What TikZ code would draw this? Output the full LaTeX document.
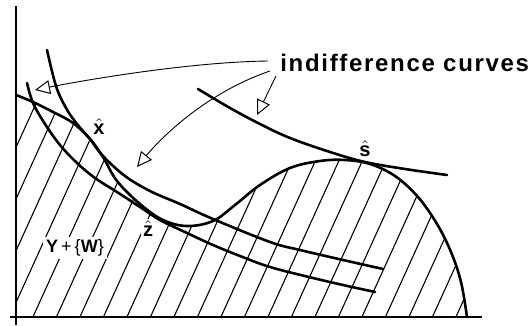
\documentclass[tikz,border=0pt]{standalone}
\usepackage{fontspec}
\setmainfont{Liberation Sans}
\newfontfamily\spaced[LetterSpace=7]{Liberation Sans}
\usetikzlibrary{arrows.meta}
\begin{document}
\begin{tikzpicture}[x=0.5pt,y=-0.5pt,
  curve/.style={line width=1.3pt, line cap=round, line join=round},
  axisline/.style={line width=1pt},
  hatch/.style={line width=0.55pt},
  pointer/.style={line width=0.45pt, -{Triangle[open,length=7.5pt,width=7pt,line width=0.5pt]}},
  lab/.style={font=\fontsize{10}{12}\selectfont\bfseries, inner sep=1pt},
]
\useasboundingbox (0,0) rectangle (531,326);

% hatching of the set Y + {W}
\begin{scope}
\clip (16,317) -- plot[smooth, tension=0.6] coordinates {(16,95) (33,102) (55,113) (73,123) (90,139) (103,157) (117,181) (140,204) (163,220) (187,226) (213,221) (235,205) (260,185) (290,168) (320,161) (345,160) (370,164) (395,176) (418,197) (437,224) (451,252) (461,282) (467,317)} -- cycle;
\foreach \k in {-7,...,20} {
  \draw[hatch] ({3.5+23.5*\k},330) -- ++(160,-352);
}
\end{scope}

% boundary of the production set
\draw[curve] plot[smooth, tension=0.6] coordinates {(16,95) (33,102) (55,113) (73,123) (90,139) (103,157) (117,181) (140,204) (163,220) (187,226) (213,221) (235,205) (260,185) (290,168) (320,161) (345,160) (370,164) (395,176) (418,197) (437,224) (451,252) (461,282) (467,317)};

% indifference curve through x-hat
\draw[curve] plot[smooth, tension=0.6] coordinates {(47,50) (56,86) (66,108) (77,124) (90,139) (103,156) (125,176) (150,191) (180,204) (213,219) (270,242) (300,250) (343,260) (383,269)};

% indifference curve through z-hat
\draw[curve] plot[smooth, tension=0.6] coordinates {(27,83) (33,103) (45,124) (60,145) (77,163) (95,178) (117,192) (140,207) (160,220) (187,233) (213,245) (240,256) (270,267) (313,278) (343,285) (375,292)};

% indifference curve through s-hat
\draw[curve] plot[smooth, tension=0.6] coordinates {(198,89) (230,108) (260,124) (290,138) (330,152) (365,162) (405,169) (447,175)};

% axes
\draw[axisline] (16,6) -- (16,325);
\draw[axisline] (10,317) -- (482,317);

% labels
\node[lab] (xh) at (99,127) {$\hat{\mbox{\bfseries x}}$};
\node[lab] (sh) at (365,149) {$\hat{\mbox{\bfseries s}}$};
\node[lab, fill=white] (zh) at (148,229) {$\hat{\mbox{\bfseries z}}$};
\node[font=\fontsize{9}{11}\selectfont, fill=white, inner sep=1.5pt] (yw) at (75,248) {{\bfseries Y}\,+\,\{{\bfseries W}\}};

\node[font=\spaced\bfseries\fontsize{12}{14}\selectfont, anchor=west, inner sep=0pt] (ic) at (280,63) {indifference curves};

\coordinate (s1) at (268,61);
\coordinate (s2) at (270,71);
\coordinate (s3) at (276,76);
\coordinate (t1) at (35,90);
\coordinate (t2) at (137,167);
\coordinate (t3) at (257,115);

\draw[pointer] (s1) .. controls (190,62) and (85,80) .. (t1);
\draw[pointer] (s2) .. controls (200,95) and (155,145) .. (t2);
\draw[pointer] (s3) -- (t3);
\end{tikzpicture}
\end{document}
